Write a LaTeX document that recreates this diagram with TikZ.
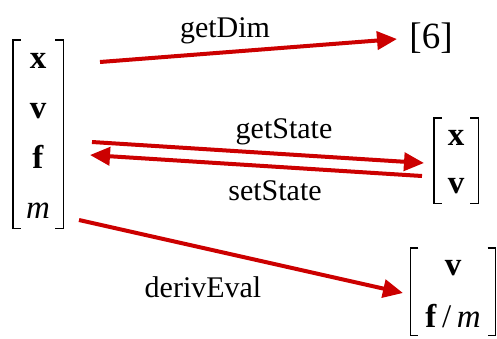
\documentclass[tikz,border=0pt]{standalone}
\usepackage{fontspec}
\setmainfont{Liberation Serif}
\usetikzlibrary{arrows.meta}
\definecolor{arrred}{RGB}{204,0,0}
\begin{document}
\begin{tikzpicture}[x=1pt,y=-1pt,
  lbl/.style={font=\fontsize{30}{34}\selectfont, anchor=base, inner sep=0},
  ent/.style={font=\fontsize{33}{38}\selectfont, anchor=base, inner sep=0},
  conn/.style={draw=arrred, line width=4, -{Triangle[length=20,width=18]}},
  brk/.style={draw=black, line width=1.4},
  mat/.style={inner sep=0, draw=none}]
\useasboundingbox (0,0) rectangle (497,338);
\newcommand\brackets[1]{%
  \draw[brk] ([xshift=8]#1.north west) -- (#1.north west) -- (#1.south west) -- ([xshift=8]#1.south west);
  \draw[brk] ([xshift=-8]#1.north east) -- (#1.north east) -- (#1.south east) -- ([xshift=-8]#1.south east);}
% left matrix
\node[mat, minimum width=50, minimum height=188] (L) at (38,134) {};
\brackets{L}
\node[ent] (Lx) at (38,68) {\textbf{x}};
\node[ent] (Lv) at (38,118) {\textbf{v}};
\node[ent] (Lf) at (38,168) {\textbf{f}};
\node[ent] (Lm) at (38,218) {\textit{m}};
% [6]
\node[font=\fontsize{37}{42}\selectfont, anchor=base, inner sep=0] (S) at (431,48) {[6]};
% right matrix 1
\node[mat, minimum width=44, minimum height=85] (R1) at (456,160.5) {};
\brackets{R1}
\node[ent] (R1x) at (456,145) {\textbf{x}};
\node[ent] (R1v) at (456,193) {\textbf{v}};
% right matrix 2
\node[mat, minimum width=85, minimum height=87] (R2) at (453,291.5) {};
\brackets{R2}
\node[ent] (R2v) at (453,275) {\textbf{v}};
\node[ent] (R2f) at (453,327) {\textbf{f}\,/\,\textit{m}};
% connector ends
\coordinate (a1) at (100,62);  \coordinate (a2) at (397,39);
\coordinate (b1) at (92,142);  \coordinate (b2) at (424,163);
\coordinate (c1) at (422,176); \coordinate (c2) at (90,155);
\coordinate (d1) at (79,220);  \coordinate (d2) at (403,293);
\draw[conn] (a1) -- (a2);
\draw[conn] (b1) -- (b2);
\draw[conn] (c1) -- (c2);
\draw[conn] (d1) -- (d2);
% labels
\node[lbl] (t1) at (225,37) {getDim};
\node[lbl] (t2) at (284,138) {getState};
\node[lbl] (t3) at (275,200) {setState};
\node[lbl] (t4) at (203,297) {derivEval};
\end{tikzpicture}
\end{document}
